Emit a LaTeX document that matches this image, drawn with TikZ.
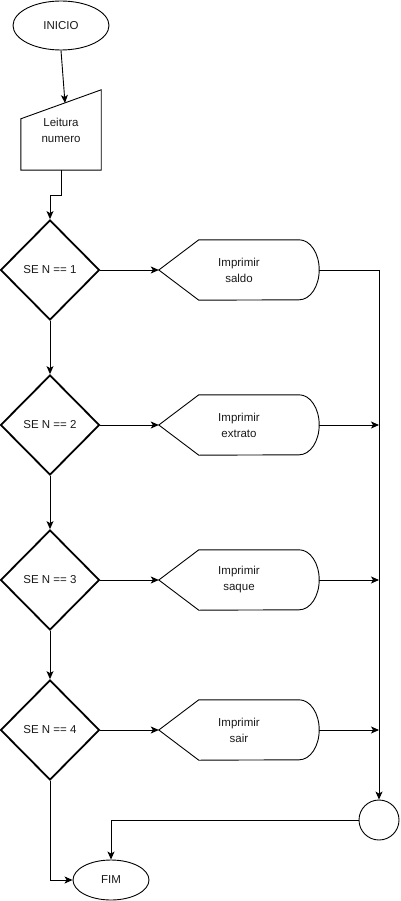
\documentclass[tikz,border=0pt]{standalone}
\usepackage{fontspec}
\setmainfont{Liberation Sans}
\usetikzlibrary{shapes.geometric,arrows.meta}
\begin{document}
\begin{tikzpicture}[x=1pt,y=-1pt,
  every node/.style={font=\fontsize{11.5}{16}\selectfont, text=black!90, inner sep=0pt},
  flow/.style={line width=0.9pt, -{Stealth[length=8pt,width=7pt,inset=2pt]}},
  plain/.style={line width=0.9pt},
  term/.style={ellipse, draw, line width=0.9pt},
  decision/.style={diamond, draw, line width=1.8pt, minimum width=99pt, minimum height=100pt, aspect=1},
  holder/.style={rectangle, draw=none, align=center},
  junction/.style={circle, draw, line width=0.9pt, minimum size=40pt}
]
\useasboundingbox (0,0) rectangle (400,901);

% start / end terminals
\node[term, minimum width=96pt, minimum height=49pt] (ini) at (61,25.5) {INICIO};
\node[term, minimum width=76pt, minimum height=40pt] (fim) at (111,880) {FIM};

% manual input block
\node[holder, minimum width=80pt, minimum height=80pt] (inp) at (61,130) {Leitura\\numero};
\draw[plain] (inp.south west) -- (inp.south east) -- (inp.north east)
  -- ([yshift=-29pt]inp.north west) -- cycle;
\coordinate (inpslant) at (65,103);

% decisions
\node[decision] (d1) at (50,270) {SE N == 1};
\node[decision] (d2) at (50,425) {SE N == 2};
\node[decision] (d3) at (50,580) {SE N == 3};
\node[decision] (d4) at (50,730) {SE N == 4};

% display blocks
\foreach \n/\y/\t in {p1/270/saldo, p2/425/extrato, p3/580/saque, p4/730/sair}{
  \node[holder, minimum width=160pt, minimum height=60pt] (\n) at (239,\y) {Imprimir\\\t};
  \draw[plain] (\n.west) -- ([xshift=40pt]\n.north west) -- ([xshift=-20pt]\n.north east)
    arc[start angle=90, end angle=-90, x radius=20pt, y radius=30pt]
    -- ([xshift=40pt]\n.south west) -- cycle;
}

% connector junction
\node[junction] (c) at (379,820) {};

% connectors
\draw[flow] (ini.south) -- (inpslant);
\draw[flow] (inp.south) -- ++(0,25) -| (d1.north);
\draw[flow] (d1.south) -- (d2.north);
\draw[flow] (d2.south) -- (d3.north);
\draw[flow] (d3.south) -- (d4.north);
\draw[flow] (d1.east) -- (p1.west);
\draw[flow] (d2.east) -- (p2.west);
\draw[flow] (d3.east) -- (p3.west);
\draw[flow] (d4.east) -- (p4.west);
\draw[flow] (p1.east) -| (c.north);
\draw[flow] (p2.east) -- (p2.east -| c.north);
\draw[flow] (p3.east) -- (p3.east -| c.north);
\draw[flow] (p4.east) -- (p4.east -| c.north);
\draw[flow] (c.west) -| (fim.north);
\draw[flow] (d4.south) |- (fim.west);
\end{tikzpicture}
\end{document}
